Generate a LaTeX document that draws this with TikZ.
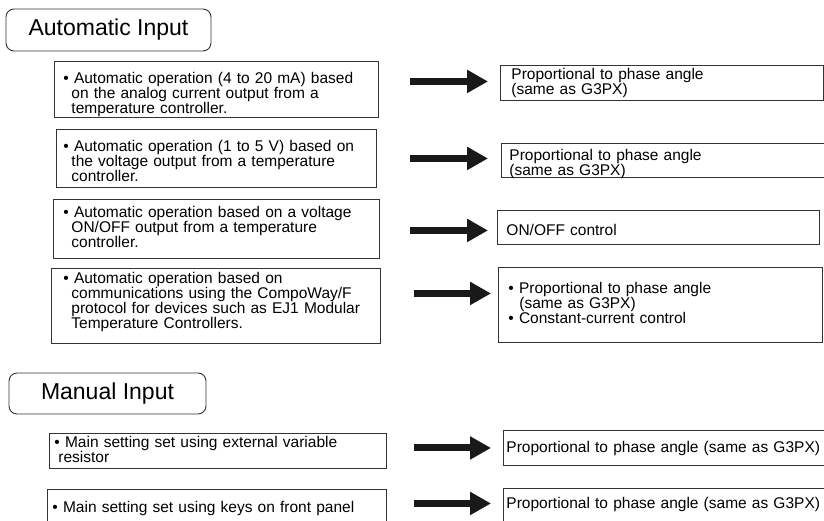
\documentclass[tikz,border=0pt]{standalone}
\usepackage{fontspec}
\setmainfont{Liberation Sans}
\usetikzlibrary{arrows.meta}
% bullet paragraph with hanging indent
\newcommand{\hangbul}[2][8pt]{\hangindent=#1\hangafter=1\textbullet\ #2\par}

\begin{document}
\begin{tikzpicture}[x=1pt, y=-1pt,
  headbox/.style={draw=black!80, line width=0.9pt, rounded corners=8pt, inner sep=0pt,
    font=\fontsize{23}{26}\selectfont},
  srcbox/.style={draw=black!80, line width=0.9pt, anchor=north west, inner ysep=0pt,
    align=left, font=\fontsize{15.5}{15}\selectfont},
  bigarrow/.style={line width=7pt, black!90, -{Triangle[length=21pt, width=22pt]}}]
\useasboundingbox (0,0) rectangle (824,520);
\clip (0,0) rectangle (824,520);
% automatic input
\node[headbox, minimum width=205pt, minimum height=42pt] (autohead) at (108.5,30) {Automatic Input};
\node[srcbox, minimum width=324pt, inner xsep=9pt, text width=306pt, text height=22pt, text depth=34pt] (auto1) at (54,61)
  {\hangbul{Automatic operation (4 to 20 mA) based\newline on the analog current output from a\newline temperature controller.}};
\node[srcbox, minimum width=320pt, inner xsep=7pt, text width=306pt, text height=22pt, text depth=36pt] (auto2) at (56,129)
  {\hangbul{Automatic operation (1 to 5 V) based on\newline the voltage output from a temperature\newline controller.}};
\node[srcbox, minimum width=326pt, inner xsep=10pt, text width=306pt, text height=18pt, text depth=41pt] (auto3) at (53,199)
  {\hangbul{Automatic operation based on a voltage\newline ON/OFF output from a temperature\newline controller.}};
\node[srcbox, minimum width=329pt, inner xsep=12pt, text width=305pt, text height=15pt, text depth=60pt] (auto4) at (51,268)
  {\hangbul{Automatic operation based on\newline communications using the CompoWay/F\newline protocol for devices such as EJ1 Modular\newline Temperature Controllers.}};
\node[srcbox, minimum width=323pt, inner xsep=11pt, text width=301pt, text height=14pt, text depth=21pt] (mode1) at (500,65)
  {Proportional to phase angle\\(same as G3PX)};
\node[srcbox, minimum width=340pt, inner xsep=8pt, text width=324pt, text height=17pt, text depth=17pt] (mode2) at (501,143)
  {Proportional to phase angle\\(same as G3PX)};
\node[srcbox, minimum width=322pt, inner xsep=9pt, text width=304pt, text height=25pt, text depth=9pt] (mode3) at (497,210)
  {ON/OFF control};
\node[srcbox, minimum width=324pt, inner xsep=10pt, text width=304pt, text height=26pt, text depth=49pt] (mode4) at (498,267)
  {\hangbul[11pt]{Proportional to phase angle\newline (same as G3PX)}\hangbul[11pt]{Constant-current control}};
\draw[bigarrow, shorten <=31pt, shorten >=12pt] (auto1.east |- mode1.west) ++(0,-1.5) -- ([yshift=1.5pt]mode1.west);
\draw[bigarrow, shorten <=33pt, shorten >=13pt] (auto2.east |- mode2.west) ++(0,-2) -- ([yshift=2pt]mode2.west);
\draw[bigarrow, shorten <=30pt, shorten >=9pt] (auto3.east |- mode3.west) ++(0,3) -- ([yshift=-3pt]mode3.west);
\draw[bigarrow, shorten <=33pt, shorten >=7pt] (auto4.east |- mode4.west) ++(0,-11.5) -- ([yshift=11.5pt]mode4.west);
% manual input
\node[headbox, minimum width=197pt, minimum height=41pt] (manhead) at (107.5,393.5) {Manual Input};
\node[srcbox, minimum width=337pt, inner xsep=5pt, text width=327pt, text height=14pt, text depth=21pt] (man1) at (49,433)
  {\hangbul[4pt]{Main setting set using external variable\newline resistor}};
\node[srcbox, minimum width=339pt, inner xsep=5pt, text width=329pt, text height=23pt, text depth=12pt] (man2) at (47,489)
  {\hangbul{Main setting set using keys on front panel}};
\node[srcbox, minimum width=340pt, inner xsep=3pt, text width=334pt, text height=22pt, text depth=13pt] (mode5) at (503,430)
  {Proportional to phase angle (same as G3PX)};
\node[srcbox, minimum width=340pt, inner xsep=3pt, text width=334pt, text height=20pt, text depth=15pt] (mode6) at (503,488)
  {Proportional to phase angle (same as G3PX)};
\draw[bigarrow, shorten <=27pt, shorten >=12pt] (man1.east |- mode5.west) -- (mode5.west);
\draw[bigarrow, shorten <=27pt, shorten >=12pt] (man2.east |- mode6.west) ++(0,-2.5) -- ([yshift=2.5pt]mode6.west);
\end{tikzpicture}
\end{document}
